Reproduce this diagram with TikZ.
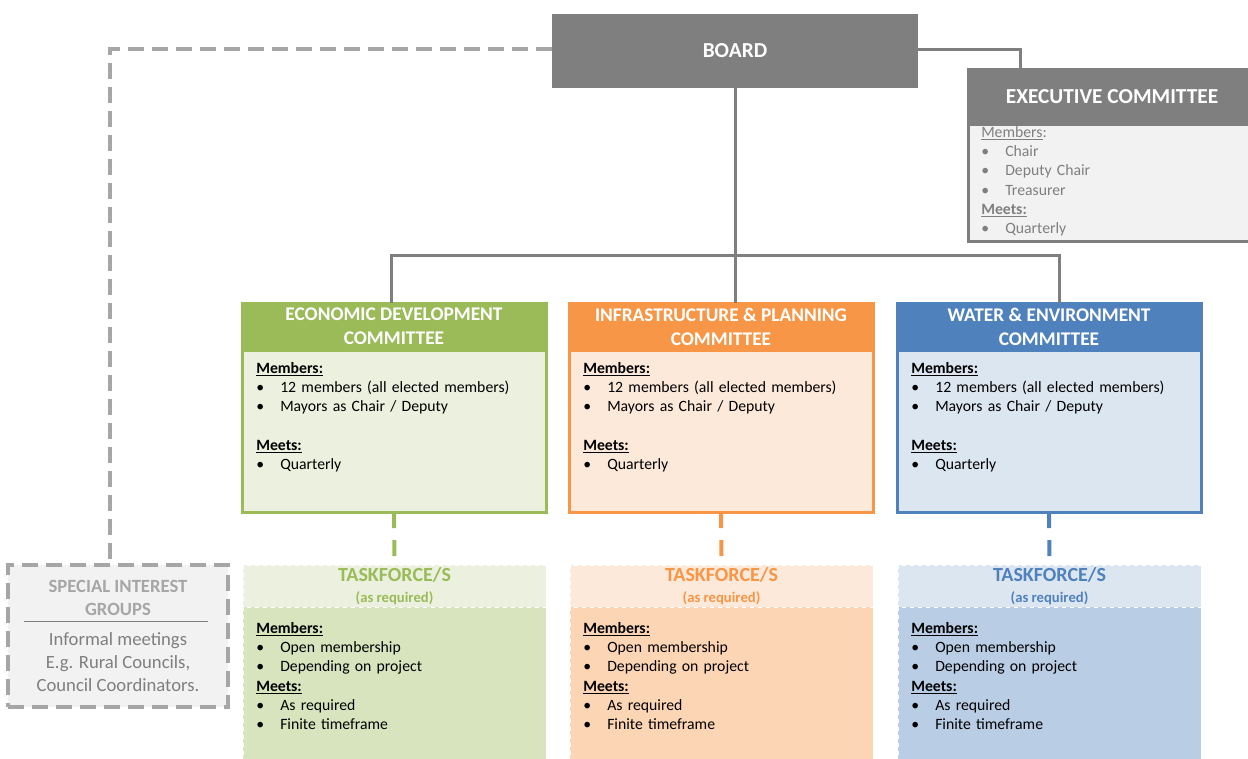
\documentclass[tikz,border=0pt]{standalone}
\usepackage{fontspec}
\setmainfont{Carlito}
\usetikzlibrary{positioning}

\definecolor{boardgray}{HTML}{7F7F7F}
\definecolor{execfill}{HTML}{F2F2F2}
\definecolor{siggray}{HTML}{A6A6A6}
\definecolor{edmain}{HTML}{9BBB59}
\definecolor{edlight}{HTML}{EBF1DE}
\definecolor{eddark}{HTML}{D7E4BD}
\definecolor{ipmain}{HTML}{F79646}
\definecolor{iplight}{HTML}{FDE9D9}
\definecolor{ipdark}{HTML}{FCD5B5}
\definecolor{wemain}{HTML}{4F81BD}
\definecolor{welight}{HTML}{DCE6F1}
\definecolor{wedark}{HTML}{B9CDE5}

\newcommand{\pxl}{0.75pt}
\newcommand{\itm}[1]{\makebox[18pt][l]{\textbullet}#1}
\newcommand{\hd}[1]{\textbf{\underline{#1}}}

\tikzset{
    conn/.style={draw=boardgray, line width=2.25pt},
    sigline/.style={draw=siggray, line width=3pt, dash pattern=on 12pt off 6pt},
    tfline/.style={line width=3pt, dash pattern=on 12pt off 9pt},
    boardbox/.style={fill=boardgray, inner sep=0pt, text=white, font=\bfseries\fontsize{16}{19}\selectfont},
    comhead/.style={anchor=north west, inner sep=0pt, outer sep=0pt, line width=2.25pt, minimum width=304*\pxl, minimum height=47*\pxl, text=white, align=center, font=\bfseries\fontsize{14.5}{18}\selectfont},
    combody/.style={inner sep=0pt, outer sep=0pt, line width=2.25pt, minimum width=304*\pxl, minimum height=162*\pxl},
    tfhead/.style={anchor=north west, inner sep=0pt, outer sep=0pt, draw=white, dashed, line width=0.75pt, minimum width=303*\pxl, minimum height=42*\pxl, align=center, font=\bfseries\fontsize{15}{16}\selectfont},
    tfbody/.style={inner sep=0pt, outer sep=0pt, draw=white, dashed, line width=0.75pt, minimum width=303*\pxl, minimum height=170*\pxl},
    txt/.style={anchor=base west, inner sep=0pt, text width=250pt, align=left, font=\fontsize{11.8}{14.5}\selectfont},
    sigbox/.style={fill=execfill, draw=siggray, line width=3pt, dash pattern=on 12pt off 6pt, inner sep=0pt},
}

\begin{document}
\begin{tikzpicture}[x=0.75pt,y=-0.75pt]
    \useasboundingbox (0,0) rectangle (1248,758);

    % board and executive committee
    \node[boardbox, minimum width=366*\pxl, minimum height=74*\pxl] (board) at (735,51) {BOARD};
    \node[anchor=north west, fill=boardgray, draw=boardgray, line width=2.25pt, outer sep=0pt, minimum width=288*\pxl, minimum height=55*\pxl, text=white, font=\bfseries\fontsize{16}{19}\selectfont] (exechead) at (968,69) {EXECUTIVE COMMITTEE};
    \node[below=0pt of exechead, fill=execfill, draw=boardgray, line width=2.25pt, outer sep=0pt, minimum width=288*\pxl, minimum height=117*\pxl] (execbody) {};
    \node[txt, text=boardgray] (exectxt) at (981,137) {\underline{Members}:\\ \itm{Chair}\\ \itm{Deputy Chair}\\ \itm{Treasurer}\\ \hd{Meets:}\\ \itm{Quarterly}};

    % committees and their taskforces
    \foreach \n/\x/\t in {ed/242/{ECONOMIC DEVELOPMENT\\COMMITTEE}, ip/569/{INFRASTRUCTURE \& PLANNING\\COMMITTEE}, we/897/{WATER \& ENVIRONMENT\\COMMITTEE}}{
        \node[comhead, fill=\n main, draw=\n main] (\n head) at (\x,303) {\t};
        \node[combody, below=0pt of \n head, fill=\n light, draw=\n main] (\n body) {};
        \node[txt] (\n txt) at (\x+14,373) {\hd{Members:}\\ \itm{12 members (all elected members)}\\ \itm{Mayors as Chair / Deputy}\\[14.5pt] \hd{Meets:}\\ \itm{Quarterly}};
        \node[tfhead, fill=\n light, text=\n main] (\n tf) at (\x+1,565) {TASKFORCE/S\\{\fontsize{11}{13}\selectfont (as required)}};
        \node[tfbody, below=0pt of \n tf, fill=\n dark] (\n tfbody) {};
        \node[txt] (\n tftxt) at (\x+14,633) {\hd{Members:}\\ \itm{Open membership}\\ \itm{Depending on project}\\ \hd{Meets:}\\ \itm{As required}\\ \itm{Finite timeframe}};
        \draw[\n main, tfline] (\n body.south) -- (\n tf.north);
    }

    % special interest groups
    \node[sigbox, minimum width=220*\pxl, minimum height=142*\pxl] (sig) at (118,636) {};
    \node[text=siggray, align=center, font=\bfseries\fontsize{14}{17}\selectfont] (sigtitle) at (118,598) {SPECIAL INTEREST\\GROUPS};
    \draw[boardgray, line width=0.75pt] (24,621) -- (208,621);
    \node[text=boardgray, align=center, font=\fontsize{14}{17.3}\selectfont] (sigtext) at (118,662) {Informal meetings\\E.g. Rural Councils,\\Council Coordinators.};

    % connectors
    \coordinate (bus) at (735,255);
    \draw[conn] (board.south) -- (iphead.north -| board.south);
    \draw[conn] ([xshift=-3*\pxl]edhead.north) |- (bus) -| ([xshift=10*\pxl]wehead.north);
    \draw[conn] ([yshift=2*\pxl]board.east) -| ([xshift=52*\pxl]exechead.north west);
    \draw[sigline] ([yshift=2*\pxl]board.west) -| ([xshift=-8*\pxl]sig.north);
\end{tikzpicture}
\end{document}
